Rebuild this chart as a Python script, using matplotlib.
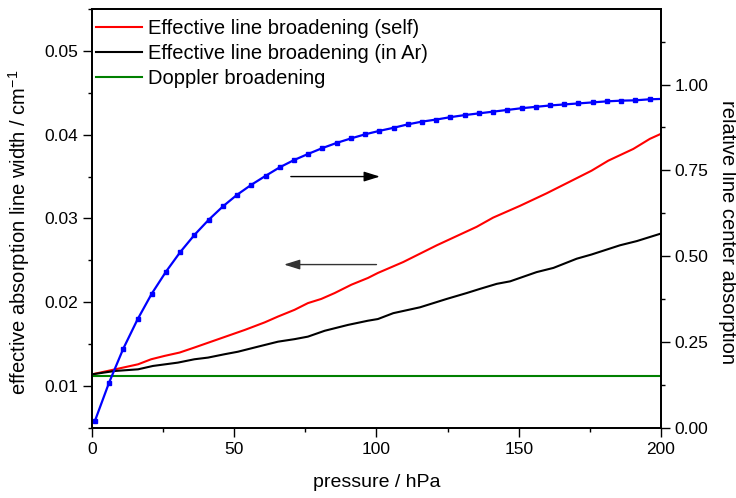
import matplotlib
matplotlib.use("Agg")
import matplotlib.pyplot as plt
from matplotlib.ticker import MultipleLocator, FormatStrFormatter

plt.rcParams['font.family'] = ['Liberation Sans', 'DejaVu Sans']

# Doppler width (constant)
doppler_width = 0.01123

# effective line broadening, self
p_self = [0, 6.8, 16.2, 20.8, 25.5, 30.8, 36, 41.9, 47.8, 53.7, 60.7, 65.4, 71.2,
          75.9, 80.6, 85.3, 91.2, 97, 100.5, 109.4, 121.2, 135.2, 141, 150.4,
          159.8, 168, 175.6, 181.5, 190.3, 196.1, 200]
w_self = [0.0114, 0.0119, 0.0126, 0.0132, 0.0136, 0.0140, 0.0146, 0.0153, 0.0160,
          0.0167, 0.0176, 0.0183, 0.0191, 0.0199, 0.0204, 0.0211, 0.0221, 0.0229,
          0.0235, 0.0248, 0.0268, 0.0290, 0.0301, 0.0315, 0.0330, 0.0344, 0.0357,
          0.0369, 0.0383, 0.0395, 0.0401]

# effective line broadening, in Ar
p_ar = [0, 8, 16.2, 21.4, 30.2, 36, 40.8, 46.6, 51.3, 58.3, 65.4, 71.2, 75.9, 81.8,
        90, 97, 100.5, 105.9, 115.3, 124.7, 131.7, 136.4, 142.3, 147, 156.3, 162.2,
        170.4, 175.6, 185.6, 191.5, 200]
w_ar = [0.0114, 0.0118, 0.0120, 0.0124, 0.0128, 0.0132, 0.0134, 0.0138, 0.0141,
        0.0147, 0.0153, 0.0156, 0.0159, 0.0166, 0.0173, 0.0178, 0.0180, 0.0187,
        0.0194, 0.0204, 0.0211, 0.0216, 0.0222, 0.0225, 0.0236, 0.0241, 0.0252,
        0.0257, 0.0268, 0.0273, 0.0282]

# relative line center absorption
p_abs = [1, 6, 11, 16, 21, 26, 31, 36, 41, 46, 51, 56, 61, 66, 71, 76, 81, 86, 91,
         96, 101, 106, 111, 116, 121, 126, 131, 136, 141, 146, 151, 156, 161, 166,
         171, 176, 181, 186, 191, 196, 200]
rel_abs = [0.020, 0.132, 0.231, 0.316, 0.391, 0.455, 0.512, 0.562, 0.606, 0.645,
           0.679, 0.708, 0.734, 0.759, 0.780, 0.798, 0.815, 0.830, 0.843, 0.855,
           0.865, 0.874, 0.884, 0.892, 0.898, 0.905, 0.911, 0.916, 0.921, 0.926,
           0.931, 0.935, 0.939, 0.942, 0.945, 0.948, 0.951, 0.953, 0.954, 0.957,
           0.958]

fig = plt.figure(figsize=(7.36, 4.98), dpi=100)
ax = fig.add_axes([0.125, 0.1406, 0.773, 0.8414])
ax2 = ax.twinx()

ax.plot(p_self, w_self, color='red', lw=1.5, label='Effective line broadening (self)')
ax.plot(p_ar, w_ar, color='black', lw=1.5, label='Effective line broadening (in Ar)')
ax.plot([0, 200], [doppler_width, doppler_width], color='green', lw=1.5,
        label='Doppler broadening')

ax2.plot(p_abs, rel_abs, color='blue', lw=1.6, marker='s', ms=3.3,
         markevery=list(range(len(p_abs) - 1)))

ax.set_xlim(0, 200)
ax.set_ylim(0.005, 0.055)
ax2.set_ylim(0, 1.22)

ax.xaxis.set_major_locator(MultipleLocator(50))
ax.xaxis.set_minor_locator(MultipleLocator(25))
ax.yaxis.set_major_locator(MultipleLocator(0.01))
ax.yaxis.set_minor_locator(MultipleLocator(0.005))
ax.yaxis.set_major_formatter(FormatStrFormatter('%.2f'))
ax2.yaxis.set_major_locator(MultipleLocator(0.25))
ax2.yaxis.set_minor_locator(MultipleLocator(0.125))
ax2.yaxis.set_major_formatter(FormatStrFormatter('%.2f'))

for a in (ax, ax2):
    a.tick_params(which='major', direction='out', length=6.5, width=1, labelsize=12.5)
    a.tick_params(which='minor', direction='out', length=3, width=1)
    for s in a.spines.values():
        s.set_linewidth(1.3)
ax.tick_params(top=False, right=False)
ax.tick_params(which='minor', top=False, right=False)

ax.set_xlabel('pressure / hPa', fontsize=14, labelpad=12)
ax.set_ylabel('effective absorption line width / cm$^{\\mathregular{-1}}$', fontsize=14.5)
ax2.set_ylabel('relative line center absorption', fontsize=14.5, rotation=270)
ax.yaxis.set_label_coords(-0.105, 0.468)
ax2.yaxis.set_label_coords(1.133, 0.468)

# arrows pointing to the relevant axis
head = '-|>,head_length=0.8,head_width=0.25'
ax.annotate('', xy=(101.2, 0.0350), xytext=(69.9, 0.0350),
            arrowprops=dict(arrowstyle=head, color='black', lw=1,
                            mutation_scale=12, shrinkA=0, shrinkB=0))
ax.annotate('', xy=(67.5, 0.0245), xytext=(100, 0.0245),
            arrowprops=dict(arrowstyle=head, color='#333333', lw=1,
                            mutation_scale=12, shrinkA=0, shrinkB=0))

ax.legend(loc='upper left', bbox_to_anchor=(0.0, 0.985), frameon=False,
          fontsize=14.5, handlelength=2.3, handletextpad=0.28, labelspacing=0.3,
          borderaxespad=0.0, borderpad=0.2)

fig.savefig('out.png', dpi=100)
